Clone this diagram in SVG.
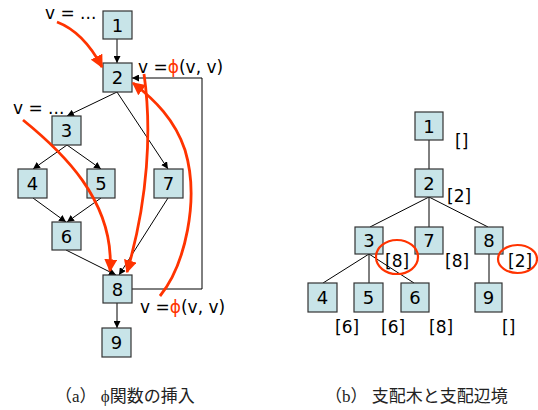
<svg xmlns="http://www.w3.org/2000/svg" width="538" height="410" viewBox="0 0 538 410">
<defs>
<marker id="ah" viewBox="0 0 10 10" refX="10" refY="5" markerWidth="7" markerHeight="7" orient="auto" markerUnits="userSpaceOnUse"><path d="M0,0 L10,5 L0,10 z" fill="#000"/></marker>
<marker id="rh" viewBox="0 0 10 10" refX="9" refY="5" markerWidth="13" markerHeight="13" orient="auto" markerUnits="userSpaceOnUse"><path d="M0,0 L10,5 L0,10 z" fill="#ff3300"/></marker>
</defs>
<style>
.box{fill:#c8e4e8;stroke:#333;stroke-width:1.2}
.num{font-family:"DejaVu Sans",Verdana,sans-serif;font-size:18px;text-anchor:middle;fill:#000}
.lbl{font-family:"DejaVu Sans",Verdana,sans-serif;font-size:17px;fill:#000}
.phi{fill:#ff3300}
.e{fill:none;stroke:#000;stroke-width:1}
.ea{fill:none;stroke:#000;stroke-width:1;marker-end:url(#ah)}
.reda{fill:none;stroke:#ff3300;stroke-width:2.8;marker-end:url(#rh)}
.cap{font-family:"Liberation Serif","Noto Sans CJK JP",serif;font-size:17px;fill:#222}
</style>
<rect width="538" height="410" fill="#fff"/>
<g id="connectors">
<line class="ea" x1="117" y1="39" x2="117" y2="63"/>
<line class="ea" x1="117" y1="92" x2="67" y2="116"/>
<line class="ea" x1="117" y1="92" x2="168" y2="169"/>
<line class="ea" x1="67" y1="145" x2="33" y2="169"/>
<line class="ea" x1="67" y1="145" x2="101" y2="169"/>
<line class="ea" x1="33" y1="198" x2="66" y2="222"/>
<line class="ea" x1="101" y1="198" x2="67" y2="222"/>
<line class="ea" x1="66" y1="250" x2="116" y2="275"/>
<line class="ea" x1="168" y1="198" x2="119" y2="275"/>
<line class="ea" x1="117" y1="303" x2="117" y2="328"/>
<polyline class="ea" points="132,289 202,289 202,78 132,78"/>
<line class="e" x1="429" y1="140" x2="429" y2="169"/>
<line class="e" x1="429" y1="197" x2="370" y2="227"/>
<line class="e" x1="429" y1="197" x2="429" y2="227"/>
<line class="e" x1="429" y1="197" x2="488" y2="227"/>
<line class="e" x1="369" y1="254" x2="323" y2="283"/>
<line class="e" x1="369" y1="254" x2="369" y2="283"/>
<line class="e" x1="369" y1="254" x2="414" y2="283"/>
<line class="e" x1="489" y1="254" x2="489" y2="283"/>
</g>
<g id="left-nodes">
<g id="a1"><rect class="box" x="103" y="11" width="29" height="28"/><text class="num" x="117.5" y="32">1</text></g>
<g id="a2"><rect class="box" x="103" y="63" width="29" height="29"/><text class="num" x="117.5" y="84">2</text></g>
<g id="a3"><rect class="box" x="52" y="116" width="29" height="29"/><text class="num" x="66.5" y="137">3</text></g>
<g id="a4"><rect class="box" x="18" y="169" width="29" height="29"/><text class="num" x="32.5" y="190">4</text></g>
<g id="a5"><rect class="box" x="87" y="169" width="28" height="29"/><text class="num" x="101" y="190">5</text></g>
<g id="a7"><rect class="box" x="154" y="169" width="29" height="29"/><text class="num" x="168.5" y="190">7</text></g>
<g id="a6"><rect class="box" x="52" y="222" width="29" height="28"/><text class="num" x="66.5" y="243">6</text></g>
<g id="a8"><rect class="box" x="103" y="275" width="29" height="28"/><text class="num" x="117.5" y="296">8</text></g>
<g id="a9"><rect class="box" x="102" y="328" width="29" height="29"/><text class="num" x="116.5" y="349">9</text></g>
</g>
<g id="left-labels">
<text class="lbl" x="45" y="19">v = ...</text>
<text class="lbl" x="13" y="114">v = ...</text>
<text class="lbl" x="138" y="73">v =<tspan class="phi">ϕ</tspan>(v, v)</text>
<text class="lbl" x="140" y="313">v =<tspan class="phi">ϕ</tspan>(v, v)</text>
</g>
<g id="red-arrows">
<path class="reda" d="M57,22 C78,30 92,48 102,67"/>
<path class="reda" d="M23,120 C60,150 115,200 110,271"/>
<path class="reda" d="M144,74 C152,130 148,200 127,272"/>
<path class="reda" d="M160,296 C185,265 200,200 185,150 C175,120 155,100 133,83"/>
</g>
<g id="right-nodes">
<g id="b1"><rect class="box" x="415" y="112" width="28" height="28"/><text class="num" x="429" y="133">1</text></g>
<g id="b2"><rect class="box" x="415" y="169" width="28" height="28"/><text class="num" x="429" y="190">2</text></g>
<g id="b3"><rect class="box" x="355" y="227" width="28" height="27"/><text class="num" x="369" y="247">3</text></g>
<g id="b7"><rect class="box" x="415" y="227" width="28" height="27"/><text class="num" x="429" y="247">7</text></g>
<g id="b8"><rect class="box" x="475" y="227" width="28" height="27"/><text class="num" x="489" y="247">8</text></g>
<g id="b4"><rect class="box" x="308" y="283" width="29" height="29"/><text class="num" x="322.5" y="304">4</text></g>
<g id="b5"><rect class="box" x="354" y="283" width="29" height="29"/><text class="num" x="368.5" y="304">5</text></g>
<g id="b6"><rect class="box" x="401" y="283" width="28" height="29"/><text class="num" x="415" y="304">6</text></g>
<g id="b9"><rect class="box" x="475" y="283" width="27" height="29"/><text class="num" x="488.5" y="304">9</text></g>
</g>
<g id="right-labels">
<text class="lbl" x="455" y="147">[]</text>
<text class="lbl" x="447" y="202">[2]</text>
<text class="lbl" x="385" y="267">[8]</text>
<text class="lbl" x="445" y="267">[8]</text>
<text class="lbl" x="508" y="267">[2]</text>
<text class="lbl" x="335" y="333">[6]</text>
<text class="lbl" x="381" y="333">[6]</text>
<text class="lbl" x="429" y="333">[8]</text>
<text class="lbl" x="502" y="333">[]</text>
<ellipse cx="397" cy="257" rx="21" ry="17" fill="none" stroke="#ff3300" stroke-width="2.2"/>
<ellipse cx="517.5" cy="259" rx="19.5" ry="14" fill="none" stroke="#ff3300" stroke-width="2.2"/>
</g>
<g id="captions">
<text class="cap" x="55" y="402">（a） ϕ関数の挿入</text>
<text class="cap" x="325" y="402">（b） 支配木と支配辺境</text>
</g>
</svg>
